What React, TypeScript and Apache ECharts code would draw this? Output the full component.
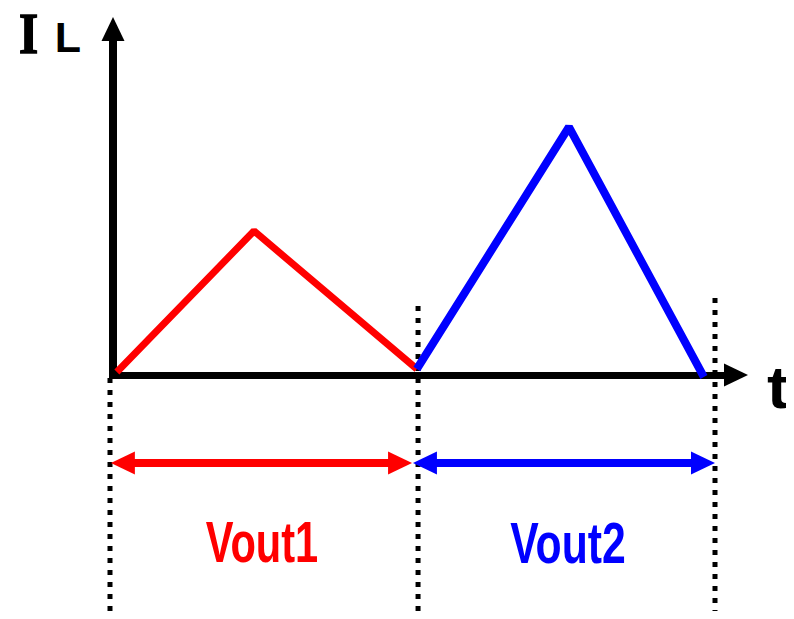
import React, { useEffect, useRef } from "react";
import * as echarts from "echarts";

// Inductor current waveform (time units, current units)
const vout1Current: [number, number][] = [
  [0.13, 0.06],
  [4.7, 2.88],
  [10.13, 0.12],
];
const vout2Current: [number, number][] = [
  [10.13, 0.12],
  [15.2, 4.96],
  [19.7, -0.04],
];
// Dotted boundary markers: [x, yTop, yBottom]
const boundaries: [number, number, number][] = [
  [-0.1, -0.06, -4.78],
  [10.17, 1.38, -4.88],
  [20.07, 1.54, -4.8],
];
// Interval arrows: [xStart, xEnd, y, colorIndex]
const intervals: [number, number, number, number][] = [
  [-0.07, 9.97, -1.76, 0],
  [10.0, 20.07, -1.76, 1],
];
const intervalLabels = ["Vout1", "Vout2"];
const colors = ["#ff0000", "#0000ff"];
const axisMax = { x: 20.77, y: 6.92 };

export default function App() {
  const ref = useRef<HTMLDivElement>(null);
  useEffect(() => {
    if (!ref.current) return;
    const chart = echarts.init(ref.current, null, { renderer: "svg" });
    chart.setOption({
      animation: false,
      grid: { left: 113, top: 29, width: 623, height: 346 },
      xAxis: {
        type: "value",
        min: 0,
        max: axisMax.x,
        axisLine: {
          show: true,
          symbol: ["none", "triangle"],
          symbolSize: [23, 24],
          lineStyle: { color: "#000", width: 7 },
        },
        axisTick: { show: false },
        axisLabel: { show: false },
        splitLine: { show: false },
      },
      yAxis: {
        type: "value",
        min: 0,
        max: axisMax.y,
        axisLine: {
          show: true,
          symbol: ["none", "triangle"],
          symbolSize: [23, 24],
          lineStyle: { color: "#000", width: 8, cap: "square" },
        },
        axisTick: { show: false },
        axisLabel: { show: false },
        splitLine: { show: false },
      },
      series: [
        {
          type: "line",
          data: vout1Current,
          symbol: "none",
          clip: false,
          lineStyle: { color: colors[0], width: 7 },
          z: 4,
        },
        {
          type: "line",
          data: vout2Current,
          symbol: "none",
          clip: false,
          lineStyle: { color: colors[1], width: 8 },
          z: 4,
        },
        {
          type: "custom",
          clip: false,
          data: boundaries,
          z: 3,
          renderItem: (params: any, api: any) => {
            const p1 = api.coord([api.value(0), api.value(1)]);
            const p2 = api.coord([api.value(0), api.value(2)]);
            return {
              type: "line",
              shape: { x1: p1[0], y1: p1[1], x2: p2[0], y2: p2[1] },
              style: { stroke: "#000", lineWidth: 5, lineDash: [5, 7] },
            };
          },
        },
        {
          type: "custom",
          clip: false,
          data: intervals,
          z: 5,
          renderItem: (params: any, api: any) => {
            const p1 = api.coord([api.value(0), api.value(2)]);
            const p2 = api.coord([api.value(1), api.value(2)]);
            const color = colors[api.value(3)];
            const hl = 24;
            const hw = 11.5;
            const y = p1[1];
            return {
              type: "group",
              children: [
                {
                  type: "line",
                  shape: { x1: p1[0] + hl - 2, y1: y, x2: p2[0] - hl + 2, y2: y },
                  style: { stroke: color, lineWidth: 8 },
                },
                {
                  type: "polygon",
                  shape: {
                    points: [
                      [p1[0], y],
                      [p1[0] + hl, y - hw],
                      [p1[0] + hl, y + hw],
                    ],
                  },
                  style: { fill: color },
                },
                {
                  type: "polygon",
                  shape: {
                    points: [
                      [p2[0], y],
                      [p2[0] - hl, y - hw],
                      [p2[0] - hl, y + hw],
                    ],
                  },
                  style: { fill: color },
                },
              ],
            };
          },
        },
      ],
      graphic: [
        {
          type: "text",
          x: 28.5,
          y: 34,
          scaleX: 0.85,
          style: {
            text: "I",
            fill: "#000",
            fontFamily: "Liberation Serif",
            fontWeight: 900,
            fontSize: 58,
            align: "center",
            verticalAlign: "middle",
            stroke: "#000",
            lineWidth: 1.5,
          },
        },
        {
          type: "text",
          x: 68,
          y: 37,
          style: {
            text: "L",
            fill: "#000",
            fontFamily: "Liberation Sans",
            fontWeight: "bold",
            fontSize: 43,
            align: "center",
            verticalAlign: "middle",
          },
        },
        {
          type: "text",
          x: 778,
          y: 387,
          scaleX: 1.1,
          style: {
            text: "t",
            fill: "#000",
            fontFamily: "Liberation Sans",
            fontWeight: "bold",
            fontSize: 60,
            align: "center",
            verticalAlign: "middle",
          },
        },
        {
          type: "text",
          x: 262,
          y: 543,
          scaleX: 0.73,
          style: {
            text: intervalLabels[0],
            fill: colors[0],
            fontFamily: "Liberation Sans",
            fontWeight: "bold",
            fontSize: 57,
            align: "center",
            verticalAlign: "middle",
          },
        },
        {
          type: "text",
          x: 568,
          y: 543,
          scaleX: 0.75,
          style: {
            text: intervalLabels[1],
            fill: colors[1],
            fontFamily: "Liberation Sans",
            fontWeight: "bold",
            fontSize: 57,
            align: "center",
            verticalAlign: "middle",
          },
        },
      ],
    });
    return () => chart.dispose();
  }, []);
  return <div ref={ref} style={{ width: 794, height: 619, margin: -8 }} />;
}
